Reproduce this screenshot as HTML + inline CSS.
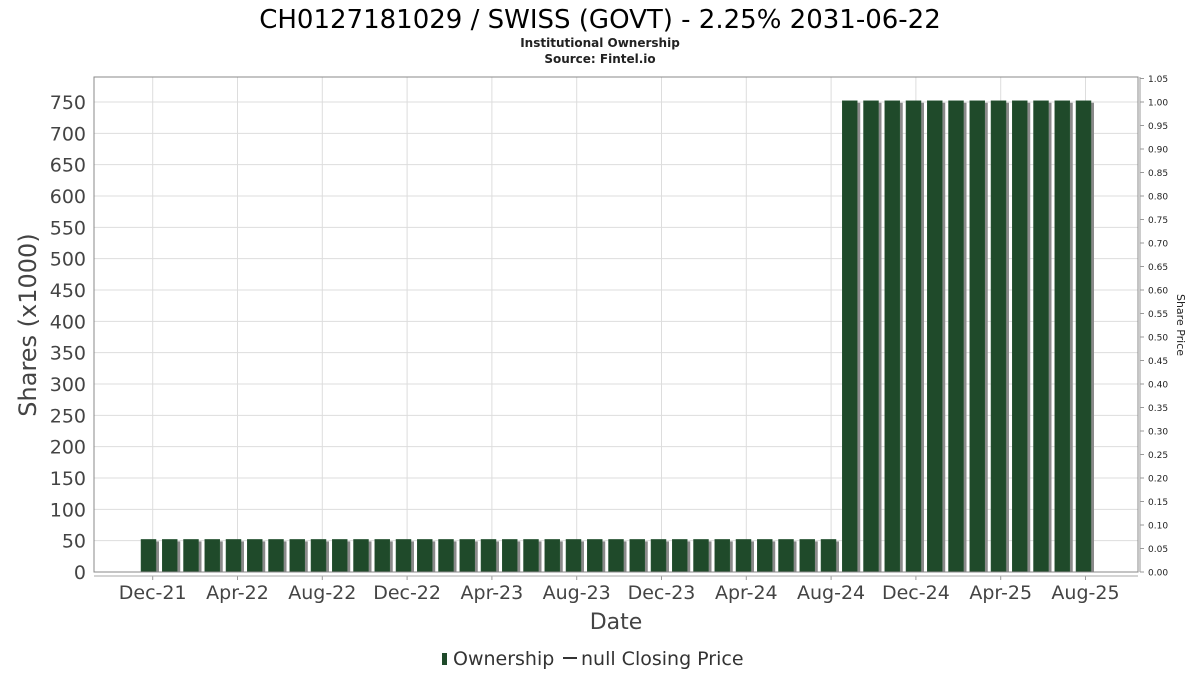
<!DOCTYPE html>
<html><head><meta charset="utf-8"><style>
body{margin:0;background:#fff;font-family:"DejaVu Sans","Liberation Sans",sans-serif}
svg text{font-family:"DejaVu Sans","Liberation Sans",sans-serif}
</style></head><body>
<svg id="c" width="1200" height="675" xmlns="http://www.w3.org/2000/svg">
<text x="600" y="28" text-anchor="middle" font-size="26" fill="#000">CH0127181029 / SWISS (GOVT) - 2.25% 2031-06-22</text>
<text x="600" y="47" text-anchor="middle" font-size="12" font-weight="bold" fill="#222">Institutional Ownership</text>
<text x="600" y="63" text-anchor="middle" font-size="12" font-weight="bold" fill="#222">Source: Fintel.io</text>
<g id="grid"></g><g id="bars"></g><g id="axes"></g>
<text transform="translate(36,325) rotate(-90)" text-anchor="middle" font-size="24" fill="#444">Shares (x1000)</text>
<text transform="translate(1177,325) rotate(90)" text-anchor="middle" font-size="11" fill="#222">Share Price</text>
<text x="616" y="629" text-anchor="middle" font-size="22" fill="#444">Date</text>
<g>
<rect x="442" y="653" width="5" height="12" fill="#1f4a2a"/>
<text x="453" y="665" font-size="19" fill="#333">Ownership</text>
<line x1="563" y1="658" x2="577" y2="658" stroke="#333" stroke-width="2"/>
<text x="581" y="665" font-size="19" fill="#333">null Closing Price</text>
</g>
</svg>
<script>
const ownershipValues=[52,52,52,52,52,52,52,52,52,52,52,52,52,52,52,52,52,52,52,52,52,52,52,52,52,52,52,52,52,52,52,52,52,752,752,752,752,752,752,752,752,752,752,752,752];
const yTicks=[0,50,100,150,200,250,300,350,400,450,500,550,600,650,700,750];
const rightTicks=[0,0.05,0.1,0.15,0.2,0.25,0.3,0.35,0.4,0.45,0.5,0.55,0.6,0.65,0.7,0.75,0.8,0.85,0.9,0.95,1.0,1.05];
const xTickLabels=["Dec-21","Apr-22","Aug-22","Dec-22","Apr-23","Aug-23","Dec-23","Apr-24","Aug-24","Dec-24","Apr-25","Aug-25"];
const NS="http://www.w3.org/2000/svg";
const L=94,R=1138,T=77,B=572;
const y=v=>B-v*(470/750);
const yr=v=>B-v*(470/1.0);
const xMonth=m=>152.7+m*21.2; // m months since Dec-21
const xBar=i=>141+i*21.25;
function mk(tag,attrs,parent){const e=document.createElementNS(NS,tag);for(const k in attrs)e.setAttribute(k,attrs[k]);parent.appendChild(e);return e;}
const grid=document.getElementById('grid'),bars=document.getElementById('bars'),axes=document.getElementById('axes');
mk('rect',{x:L,y:T,width:R-L,height:B-T,fill:'#fff',stroke:'none'},grid);
yTicks.forEach(v=>{
 const l=mk('line',{x1:L,x2:R,y1:y(v),y2:y(v),stroke:'#ddd'},grid);
 
 
 const t=mk('text',{x:L-8,y:y(v)+7,'text-anchor':'end','font-size':19,fill:'#444'},axes);
 t.textContent=v;
 
 
});
xTickLabels.forEach((s,i)=>{
 const x=xMonth(i*4);
 const l=mk('line',{x1:x,x2:x,y1:T,y2:B,stroke:'#ddd'},grid);
 
 
 mk('line',{x1:x,x2:x,y1:576,y2:580,stroke:'#999'},axes);
 const t=mk('text',{x:x,y:599,'text-anchor':'middle','font-size':19,fill:'#444'},axes);
 t.textContent=s;
 
 
});
rightTicks.forEach(v=>{
 mk('line',{x1:R+2,x2:R+6,y1:yr(v),y2:yr(v),stroke:'#999'},axes);
 const t=mk('text',{x:R+10,y:yr(v)+3.5,'font-size':9,fill:'#222'},axes);
 t.textContent=v.toFixed(2);
 
 
});
ownershipValues.forEach((v,i)=>{
 const x=xBar(i);
 const s=mk('rect',{x:x+3,y:y(v)+2,width:15,height:B-y(v)-2,fill:'#8a8a8a'},bars);
 
 
 const b=mk('rect',{x:x,y:y(v),width:15,height:B-y(v),fill:'#1f4a2a',stroke:'#2f5a3a','stroke-width':0.5},bars);
 
 
});
mk('rect',{x:L,y:T,width:R-L,height:B-T,fill:'none',stroke:'#888'},axes);
mk('line',{x1:L,x2:R,y1:576,y2:576,stroke:'#aaa'},axes);
mk('line',{x1:R+2,x2:R+2,y1:T,y2:B,stroke:'#999'},axes);
</script>
</body></html>
